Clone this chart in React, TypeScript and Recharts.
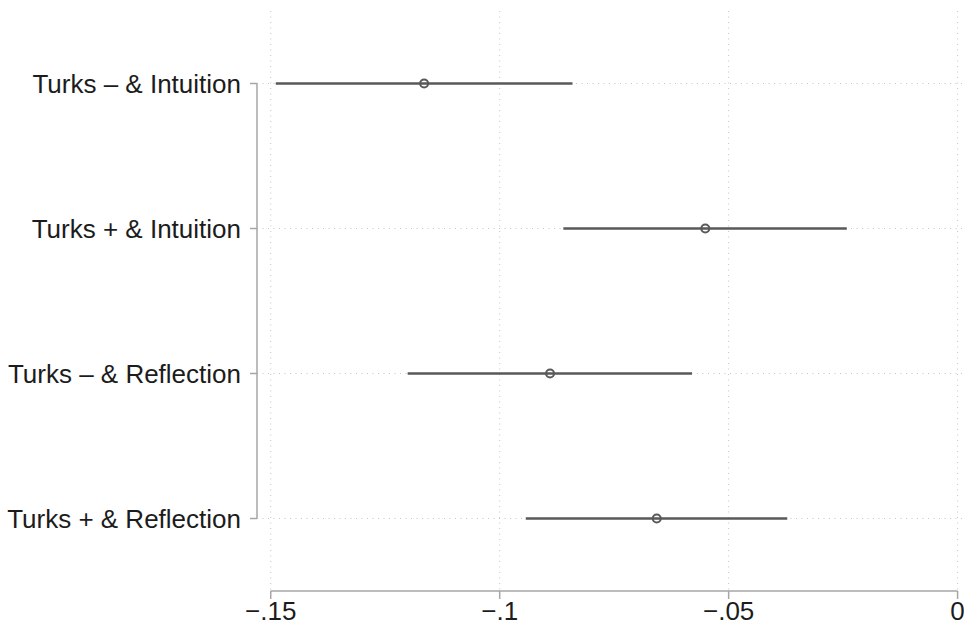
import {
  ScatterChart,
  Scatter,
  XAxis,
  YAxis,
  CartesianGrid,
  ErrorBar,
  ReferenceLine,
} from "recharts";

// rows, top to bottom
const groups = [
  "Turks – & Intuition",
  "Turks + & Intuition",
  "Turks – & Reflection",
  "Turks + & Reflection",
];
const estimates = [-0.1165, -0.0551, -0.089, -0.0657];
const lower = [-0.1489, -0.0861, -0.1201, -0.0943];
const upper = [-0.0841, -0.0242, -0.058, -0.0372];
const xTicks = [-0.15, -0.1, -0.05, 0];

const rows = groups.map((g, i) => ({
  row: i + 1,
  name: g,
  est: estimates[i],
  ci: [estimates[i] - lower[i], upper[i] - estimates[i]],
}));

const X_LO = -0.153;
const X_HI = 0.0014;
const AXIS = "#a6a6a6";
const INK = "#595959";
const FONT = "'Liberation Sans', Arial, Helvetica, sans-serif";

const fmtX = (v: number) =>
  v === 0 ? "0" : "\u2212" + String(Math.abs(v)).replace(/^0/, "");

const Dot = (props: any) => (
  <circle
    cx={props.cx}
    cy={props.cy}
    r={4}
    fill="none"
    stroke={INK}
    strokeWidth={2}
  />
);

export default function App() {
  return (
    <div style={{ position: "absolute", left: 0, top: 0, background: "#fff" }}>
      <ScatterChart
        width={964}
        height={626}
        margin={{ top: 11, right: 0, bottom: 0, left: 0 }}
      >
        <CartesianGrid
          stroke="#c4c4c4"
          strokeDasharray="1 4.5"
          horizontalValues={[1, 2, 3, 4]}
          verticalValues={xTicks}
        />
        <XAxis
          type="number"
          dataKey="est"
          domain={[X_LO, X_HI]}
          ticks={xTicks}
          tickFormatter={fmtX}
          axisLine={false}
          tickLine={{ stroke: AXIS, strokeWidth: 1.5 }}
          tickSize={8}
          tickMargin={3}
          height={35}
          interval={0}
          tick={{ fill: "#1c1c1c", fontSize: 26, fontFamily: FONT }}
        />
        <YAxis
          type="number"
          dataKey="row"
          domain={[0.5, 4.5]}
          reversed
          ticks={[1, 2, 3, 4]}
          tickFormatter={(v: number) => groups[v - 1] ?? ""}
          axisLine={false}
          tickLine={{ stroke: AXIS, strokeWidth: 1.5 }}
          tickSize={7}
          tickMargin={9}
          width={257}
          interval={0}
          tick={{ fill: "#1c1c1c", fontSize: 26, fontFamily: FONT }}
        />
        <ReferenceLine
          segment={[
            { x: X_LO, y: 1 },
            { x: X_LO, y: 4 },
          ]}
          stroke={AXIS}
          strokeWidth={1.5}
          ifOverflow="visible"
        />
        <ReferenceLine
          segment={[
            { x: xTicks[0], y: 4.5 },
            { x: xTicks[xTicks.length - 1], y: 4.5 },
          ]}
          stroke={AXIS}
          strokeWidth={1.5}
          ifOverflow="visible"
        />
        <Scatter data={rows} shape={<Dot />} isAnimationActive={false}>
          <ErrorBar
            dataKey="ci"
            direction="x"
            width={0}
            stroke={INK}
            strokeWidth={2.5}
            isAnimationActive={false}
          />
        </Scatter>
      </ScatterChart>
    </div>
  );
}
